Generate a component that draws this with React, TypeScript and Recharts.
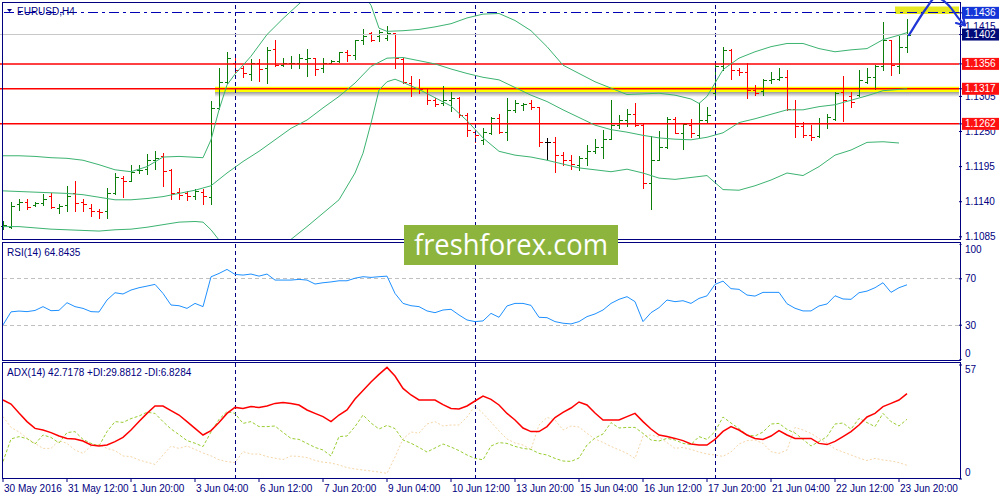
import React from 'react';
import {
  ComposedChart,
  Bar,
  Line,
  XAxis,
  YAxis,
  ReferenceLine,
  ReferenceArea,
} from 'recharts';

// EURUSD H4 bars, 30 May 2016 04:00 .. 24 Jun 2016 00:00
const open = [
  1.1102, 1.1101, 1.1136, 1.114, 1.1135, 1.1138, 1.1149, 1.113, 1.1135, 1.1153,
  1.114, 1.113, 1.1126, 1.1126, 1.1153, 1.1177, 1.1173, 1.1189, 1.1192, 1.1205,
  1.1211, 1.119, 1.1156, 1.1154, 1.1149, 1.1156, 1.1148, 1.1287, 1.1327, 1.1357,
  1.1349, 1.134, 1.1357, 1.1349, 1.1379, 1.1354, 1.1357, 1.1357, 1.1363, 1.1365,
  1.1349, 1.1358, 1.1361, 1.1374, 1.137, 1.1393, 1.1404, 1.1399, 1.1396, 1.1404,
  1.1363, 1.1326, 1.1319, 1.1318, 1.1299, 1.1294, 1.1299, 1.1302, 1.1276, 1.125,
  1.1237, 1.1248, 1.1271, 1.125, 1.1284, 1.1292, 1.1295, 1.1288, 1.1234, 1.1234,
  1.1213, 1.1206, 1.1198, 1.1208, 1.122, 1.1226, 1.1239, 1.126, 1.1268, 1.1277,
  1.126, 1.117, 1.1205, 1.1226, 1.1269, 1.1247, 1.126, 1.1245, 1.1268, 1.131,
  1.1352, 1.1378, 1.1346, 1.1344, 1.1315, 1.1314, 1.133, 1.1333, 1.1335, 1.1285,
  1.1259, 1.1245, 1.1243, 1.1264, 1.1269, 1.1312, 1.1305, 1.1307, 1.1328, 1.1336,
  1.1352, 1.1393, 1.1353, 1.1383,
];
const high = [
  1.1109, 1.1139, 1.1144, 1.1144, 1.114, 1.1152, 1.1154, 1.1137, 1.1165, 1.1173,
  1.1144, 1.1137, 1.1128, 1.1161, 1.1185, 1.118, 1.1197, 1.1197, 1.1214, 1.122,
  1.1216, 1.1192, 1.1161, 1.1157, 1.116, 1.116, 1.1298, 1.1349, 1.1374, 1.1371,
  1.1352, 1.1363, 1.1363, 1.1383, 1.1393, 1.1365, 1.1368, 1.1372, 1.138, 1.1366,
  1.1366, 1.1362, 1.1375, 1.1378, 1.1394, 1.141, 1.1406, 1.1409, 1.1415, 1.1405,
  1.1365, 1.1337, 1.1332, 1.1319, 1.1302, 1.1321, 1.1312, 1.1304, 1.1279, 1.1252,
  1.1255, 1.1273, 1.1277, 1.1302, 1.1299, 1.1295, 1.1299, 1.1289, 1.124, 1.1242,
  1.1218, 1.1213, 1.1211, 1.1229, 1.1238, 1.1253, 1.1299, 1.1276, 1.1286, 1.1294,
  1.1264, 1.1243, 1.1251, 1.1272, 1.1272, 1.1264, 1.127, 1.1295, 1.1289, 1.1357,
  1.1382, 1.1379, 1.1349, 1.1357, 1.1323, 1.1332, 1.1344, 1.1349, 1.1346, 1.13,
  1.1265, 1.126, 1.1271, 1.1277, 1.1312, 1.1337, 1.1312, 1.1346, 1.1349, 1.1354,
  1.1422, 1.1394, 1.1399, 1.1426,
];
const low = [
  1.1098, 1.1099, 1.1127, 1.1128, 1.1133, 1.1135, 1.113, 1.1122, 1.1126, 1.1125,
  1.1126, 1.1117, 1.1114, 1.1115, 1.1152, 1.1148, 1.1172, 1.1185, 1.1183, 1.1191,
  1.1165, 1.1144, 1.1144, 1.1143, 1.1144, 1.1137, 1.1136, 1.1286, 1.1326, 1.1344,
  1.1335, 1.1331, 1.1329, 1.1326, 1.1353, 1.1353, 1.1349, 1.135, 1.1337, 1.1339,
  1.1344, 1.1357, 1.1359, 1.1361, 1.1363, 1.1387, 1.1392, 1.1392, 1.1394, 1.135,
  1.1326, 1.1305, 1.1311, 1.1293, 1.129, 1.1292, 1.1282, 1.1273, 1.1243, 1.1233,
  1.123, 1.1246, 1.1248, 1.1237, 1.1281, 1.1284, 1.1285, 1.1228, 1.1207, 1.1187,
  1.1197, 1.1192, 1.1189, 1.1197, 1.1217, 1.1209, 1.1238, 1.1255, 1.1258, 1.1258,
  1.1162, 1.1129, 1.1205, 1.1224, 1.1247, 1.1222, 1.1241, 1.1241, 1.1265, 1.1308,
  1.1347, 1.1332, 1.1339, 1.1303, 1.1307, 1.1307, 1.1326, 1.133, 1.1283, 1.1242,
  1.1241, 1.1237, 1.1242, 1.1255, 1.1268, 1.1267, 1.1288, 1.1305, 1.1326, 1.1316,
  1.1346, 1.1339, 1.1341, 1.1375,
];
const close = [
  1.1104, 1.1133, 1.114, 1.1132, 1.1138, 1.1144, 1.1132, 1.1134, 1.1149, 1.1138,
  1.1137, 1.1125, 1.1124, 1.1154, 1.1178, 1.1173, 1.1187, 1.119, 1.1206, 1.1209,
  1.1188, 1.1154, 1.1151, 1.1149, 1.1157, 1.1149, 1.1287, 1.1327, 1.1366, 1.1346,
  1.1342, 1.1357, 1.1348, 1.1378, 1.1354, 1.1358, 1.1358, 1.1365, 1.1365, 1.1348,
  1.1358, 1.1361, 1.1374, 1.137, 1.1393, 1.1399, 1.1394, 1.1406, 1.1405, 1.1365,
  1.1327, 1.1319, 1.1316, 1.1299, 1.1293, 1.13, 1.1302, 1.1276, 1.1252, 1.1245,
  1.125, 1.1271, 1.125, 1.1284, 1.1294, 1.1293, 1.1288, 1.1234, 1.1234, 1.1213,
  1.1206, 1.1199, 1.1208, 1.122, 1.1226, 1.1239, 1.126, 1.1268, 1.1277, 1.126,
  1.117, 1.1205, 1.1226, 1.1269, 1.1248, 1.1262, 1.1248, 1.1268, 1.1276, 1.1352,
  1.1378, 1.1346, 1.1344, 1.1315, 1.1311, 1.1331, 1.1333, 1.1335, 1.1285, 1.1259,
  1.1245, 1.1241, 1.1264, 1.1273, 1.1311, 1.13, 1.1296, 1.1331, 1.1336, 1.1352,
  1.1394, 1.1354, 1.1383, 1.1402,
];

// Bollinger bands, read as [bar, price]
const bbUpper = [
  [0, 1.1212], [2, 1.1212], [4, 1.1211], [6, 1.1209], [8, 1.1208], [10, 1.1205],
  [12, 1.1198], [14, 1.119], [16, 1.1187], [18, 1.1195], [20, 1.121], [22, 1.1211],
  [25, 1.1209], [26, 1.1237], [27, 1.1284], [28, 1.1323], [29, 1.134], [31, 1.1368],
  [33, 1.1402], [35, 1.1427], [37, 1.145], [39, 1.1472], [41, 1.1485], [43, 1.1482],
  [45, 1.1465], [46, 1.1448], [47, 1.1412], [48, 1.1407], [50, 1.1408], [52, 1.141],
  [54, 1.1414], [56, 1.1419], [58, 1.1428], [60, 1.1434], [62, 1.1435], [64, 1.1424],
  [66, 1.1408], [68, 1.1383], [70, 1.1354], [72, 1.1341], [74, 1.1328], [76, 1.1318],
  [78, 1.1308], [80, 1.1309], [82, 1.131], [84, 1.1307], [86, 1.1301], [87, 1.1294],
  [88, 1.1305], [90, 1.1347], [92, 1.1365], [94, 1.1375], [96, 1.1383], [98, 1.1388],
  [100, 1.1388], [102, 1.138], [104, 1.1375], [106, 1.1378], [108, 1.138], [110, 1.1394],
  [112, 1.1401], [113, 1.1405],
];
const bbMiddle = [
  [0, 1.1157], [2, 1.1156], [4, 1.1155], [6, 1.1154], [8, 1.1153], [10, 1.1151],
  [12, 1.1147], [14, 1.1143], [16, 1.1143], [18, 1.1145], [20, 1.1148], [22, 1.1153],
  [24, 1.1158], [26, 1.1165], [28, 1.1185], [30, 1.1203], [32, 1.1219], [34, 1.1237],
  [36, 1.1255], [38, 1.1268], [40, 1.1287], [42, 1.1305], [44, 1.1326], [46, 1.1352],
  [48, 1.1365], [50, 1.1366], [52, 1.1361], [54, 1.1356], [56, 1.1348], [58, 1.1341],
  [60, 1.1335], [62, 1.1331], [64, 1.1319], [66, 1.1307], [68, 1.1297], [70, 1.1284],
  [72, 1.1272], [74, 1.126], [76, 1.1253], [78, 1.1249], [80, 1.1244], [82, 1.124],
  [84, 1.1238], [86, 1.1237], [88, 1.1241], [90, 1.1248], [92, 1.1264], [94, 1.127],
  [96, 1.1277], [98, 1.1284], [100, 1.1284], [102, 1.1289], [104, 1.1292], [106, 1.1299],
  [108, 1.1306], [110, 1.1314], [112, 1.1316], [113, 1.1317],
];
const bbLower = [
  [0, 1.1101], [2, 1.1101], [4, 1.1099], [6, 1.1097], [8, 1.1096], [10, 1.1095],
  [12, 1.1094], [14, 1.1096], [16, 1.1097], [18, 1.11], [20, 1.1104], [22, 1.1108],
  [24, 1.1109], [25, 1.1108], [26, 1.1096], [27, 1.108], [28, 1.1059], [30, 1.1028],
  [32, 1.1018], [34, 1.1049], [36, 1.1081], [38, 1.1101], [40, 1.1122], [42, 1.1143],
  [44, 1.1185], [45, 1.1216], [46, 1.1263], [47, 1.1315], [48, 1.1328], [49, 1.1332],
  [50, 1.1327], [52, 1.1316], [54, 1.1303], [56, 1.129], [58, 1.1267], [60, 1.124],
  [62, 1.1219], [64, 1.1213], [66, 1.121], [68, 1.1205], [70, 1.1199], [72, 1.1193],
  [74, 1.119], [76, 1.1187], [78, 1.1191], [80, 1.1185], [82, 1.1177], [84, 1.1175],
  [86, 1.1178], [88, 1.1181], [90, 1.1159], [92, 1.1158], [94, 1.1165], [96, 1.1174],
  [98, 1.1185], [100, 1.1181], [102, 1.1195], [104, 1.1213], [106, 1.1221], [108, 1.1233],
  [110, 1.1234], [112, 1.1232],
];

const rsi = [
  30.2, 41.5, 42.2, 41.7, 42.7, 46, 42.5, 42.8, 49.4, 46,
  44.5, 41.7, 41.4, 51.7, 58, 56.9, 60.3, 62.3, 63.7, 65.2,
  57.4, 47.4, 46.8, 44.5, 48.8, 46, 71.7, 74.6, 78.1, 73.8,
  73.2, 74.1, 72.3, 74.1, 68.9, 68.9, 68.9, 69.5, 68.9, 65.5,
  66.6, 67.3, 68.3, 68.3, 70.5, 71.8, 71.2, 71.8, 72.3, 57.4,
  48.8, 46.8, 46, 42.3, 40.8, 43.1, 43.7, 38.8, 34.5, 33.1,
  33.7, 40.2, 36.8, 46.6, 48.8, 48.8, 47.1, 36.8, 36.5, 33.1,
  31.7, 31.1, 33.1, 37.4, 39.7, 43.1, 48.8, 52.3, 54.6, 50.3,
  33.1, 40.8, 45.1, 51.7, 50.3, 51.1, 48.8, 53.1, 55.3, 65.2,
  68, 61.5, 60.9, 56, 55.1, 58.3, 58.3, 58.3, 48.5, 44.6,
  42.3, 42.3, 46.6, 48.3, 55.4, 52.6, 52.3, 58, 59.4, 62.3,
  66.6, 58.3, 62.3, 64.84,
];

const adx = [
  39.5, 37.5, 33, 28.7, 25.3, 24.5, 23.2, 21.5, 20.3, 20,
  19, 17, 16.5, 17, 18.7, 20.8, 24.5, 28.7, 32.8, 36.5,
  36.5, 34.2, 32, 28.7, 25.3, 22, 24.2, 28.2, 32.8, 35.8,
  35.3, 36.2, 35.8, 36.5, 37.8, 38.3, 37.8, 37, 34.5, 32.8,
  31.2, 28.7, 32, 34.5, 40, 44.2, 48.5, 52.3, 55.8, 51.5,
  45.3, 42, 39.5, 39.5, 39.5, 37.2, 35.3, 35, 36.5, 39,
  41.5, 39.8, 37, 32.8, 29.5, 25.5, 23.7, 23.7, 26.2, 30.7,
  33.3, 35.5, 38.5, 37, 33, 29.5, 29.5, 29.5, 31.2, 32.8,
  28.7, 25, 22, 21.2, 20.3, 19.2, 17.5, 17, 17, 19.8,
  23.8, 26.2, 24.5, 22, 20.3, 19.8, 21.5, 24.2, 22, 20.3,
  20.3, 20.3, 17.8, 17.2, 18.8, 21.2, 23.7, 27, 31, 32.8,
  36.2, 37.8, 39.5, 42.72,
];
const plusDi = [
  8.7, 20, 21.2, 20.2, 17.5, 22, 20.8, 18, 23.2, 23.7,
  19.8, 17.8, 16.5, 23.7, 28.7, 28.3, 30.2, 31.5, 33.4, 32.8,
  28.7, 25, 22.2, 19.2, 17.9, 16.2, 23.5, 29.8, 33.7, 32.8,
  27.8, 28.7, 26.2, 26.2, 26.5, 23.3, 20.3, 19.8, 17.8, 15.8,
  14.5, 11.5, 21.2, 21.5, 26.2, 32, 28, 25, 26.8, 25.2,
  19.5, 17.9, 15.8, 13.5, 15.5, 17.5, 16, 14.2, 12, 10.3,
  9.6, 16.5, 18.2, 17.8, 16.3, 15.3, 14.8, 12.8, 12, 10.3,
  9, 8.8, 10.5, 17, 20.5, 22.5, 28.2, 25.5, 25.8, 25.8,
  22.8, 19.5, 19, 20.3, 19.5, 17.8, 17.2, 21.2, 19.8, 23.7,
  31, 28, 25.2, 22, 21.5, 23.5, 27.5, 27.8, 24.8, 23,
  19.8, 16.5, 18.7, 21.2, 27.5, 28, 24.9, 30.3, 28.2, 26.2,
  32.8, 28.7, 26.5, 29.88,
];
const minusDi = [
  31.2, 25.8, 23.5, 20.5, 17.8, 15.3, 15.3, 19.2, 17.8, 14.5,
  12.8, 16.5, 17.3, 15.3, 14.2, 11.5, 11.2, 9.5, 8.4, 7.3,
  12, 16.4, 15.3, 16.5, 14.8, 13, 11.6, 9.6, 8.7, 8.2,
  13.7, 12.5, 12.5, 11.2, 10.4, 9.7, 11.5, 11.3, 10.7, 9.3,
  8.4, 8, 7, 5.7, 5, 4.5, 4, 3.5, 2.8, 11,
  20, 23.5, 22.9, 27.5, 28.7, 26.5, 27, 27, 31, 36.5,
  32.8, 28.5, 24, 20, 18, 17, 14.8, 27, 30.8, 29.5,
  24.5, 26.5, 26, 22.8, 20, 18.3, 16.3, 14.6, 12.8, 10.3,
  21.5, 22, 21, 18.2, 15.3, 15.8, 14.8, 13.5, 12.5, 12,
  11.3, 13.5, 17.5, 19.2, 19.5, 17.8, 13.7, 12.8, 14.5, 25.8,
  24.5, 22.8, 20.3, 18, 15, 13.5, 12, 10.5, 9.2, 10.3,
  9.5, 9, 8.2, 6.83,
];

const dateLabels = [
  '30 May 2016', '31 May 12:00', '1 Jun 20:00', '3 Jun 04:00', '6 Jun 12:00',
  '7 Jun 20:00', '9 Jun 04:00', '10 Jun 12:00', '13 Jun 20:00', '15 Jun 04:00',
  '16 Jun 12:00', '17 Jun 20:00', '21 Jun 04:00', '22 Jun 12:00', '23 Jun 20:00',
];
const weekStarts = [29, 59, 89];
// 1.1360 sits fully under the 1.1356 box in the reference, so it is left out
const priceTicks = [1.1085, 1.114, 1.1195, 1.125, 1.1305, 1.1415];
const levels = [1.1356, 1.1317, 1.1262];
const bidPrice = 1.1402;
const targetPrice = 1.1436;
const rsiTicks = [100, 70, 30, 0];
const rsiLevels = [70, 30];
const adxTicks = [57, 0];

const SLOTS = 120;
const NAVY = '#000080';
const UP = '#0b7d0b';
const DOWN = '#ff0000';
const FONT = '"Liberation Sans", Arial, sans-serif';
const margin = { top: 0, right: 0, bottom: 0, left: 0 };

const rows: any[] = Array.from({ length: SLOTS }, (_, k) => ({
  k,
  o: open[k] ?? null,
  h: high[k] ?? null,
  l: low[k] ?? null,
  c: close[k] ?? null,
  rsi: rsi[k] ?? null,
  adx: adx[k] ?? null,
  pdi: plusDi[k] ?? null,
  mdi: minusDi[k] ?? null,
  bu: null,
  bm: null,
  bl: null,
  none: null,
}));
const put = (key: string, pairs: number[][]) =>
  pairs.forEach(([k, v]) => {
    rows[k][key] = v;
  });
put('bu', bbUpper);
put('bm', bbMiddle);
put('bl', bbLower);

const labelSlots = dateLabels.map((_, i) => i * 8);
const priceAxisTicks = [...priceTicks, ...levels, bidPrice, targetPrice];

const boxFill = (v: number) => {
  if (levels.includes(v)) return '#ff1010';
  if (v === bidPrice) return '#000a78';
  if (v === targetPrice) return '#1436d8';
  return null;
};

const ohlcRange = (d: any) => (d.h == null ? null : [d.l, d.h]);

function OhlcBar(props: any) {
  const { x, y, width, height, payload } = props;
  if (!payload || payload.h == null || x == null) return null;
  const top = Math.min(y, y + height);
  const bottom = Math.max(y, y + height);
  const span = payload.h - payload.l;
  const at = (v: number) => (span > 0 ? top + ((payload.h - v) / span) * (bottom - top) : top);
  const cx = Math.round(x + width / 2) + 0.5;
  const color = payload.c > payload.o ? UP : payload.c < payload.o ? DOWN : '#000000';
  const yo = Math.round(at(payload.o)) + 0.5;
  const yc = Math.round(at(payload.c)) + 0.5;
  return (
    <g stroke={color} strokeWidth={1} shapeRendering="crispEdges">
      <line x1={cx} x2={cx} y1={Math.round(top)} y2={Math.round(bottom) + 1} />
      <line x1={cx - 3} x2={cx} y1={yo} y2={yo} />
      <line x1={cx} x2={cx + 3} y1={yc} y2={yc} />
    </g>
  );
}

function PriceTick(props: any) {
  const { x, y, payload } = props;
  const v = payload.value as number;
  const fill = boxFill(v);
  const label = v.toFixed(4);
  if (fill) {
    return (
      <g>
        <rect x={x - 2} y={y - 6} width={37} height={12} fill={fill} />
        <text x={x + 1} y={y} dy="0.35em" fill="#ffffff" fontSize={10} fontFamily={FONT}>
          {label}
        </text>
      </g>
    );
  }
  return (
    <text x={x + 1} y={y} dy="0.35em" fill={NAVY} fontSize={10} fontFamily={FONT}>
      {label}
    </text>
  );
}

function RsiTick(props: any) {
  const { x, y, payload } = props;
  const v = payload.value as number;
  const shift = v === 100 ? 5 : v === 0 ? -7 : 0;
  return (
    <text x={x + 1} y={y + shift} dy="0.35em" fill={NAVY} fontSize={10} fontFamily={FONT}>
      {v}
    </text>
  );
}

function AdxTick(props: any) {
  const { x, y, payload } = props;
  const v = payload.value as number;
  const shift = v === 0 ? -7 : 4;
  return (
    <text x={x + 1} y={y + shift} dy="0.35em" fill={NAVY} fontSize={10} fontFamily={FONT}>
      {v}
    </text>
  );
}

function DateTick(props: any) {
  const { x, y, payload } = props;
  const label = dateLabels[payload.value / 8];
  if (!label) return null;
  return (
    <text x={x + 1} y={y + 8} fill={NAVY} fontSize={10} fontFamily={FONT}>
      {label}
    </text>
  );
}

const separators = weekStarts.map((k) => (
  <ReferenceLine
    key={`w${k}`}
    x={k}
    stroke={NAVY}
    strokeDasharray="4 3"
    shapeRendering="crispEdges"
    ifOverflow="visible"
  />
));

export default function App() {
  return (
    <div
      style={{
        position: 'absolute',
        left: 0,
        top: 0,
        width: 1000,
        height: 500,
        background: '#ffffff',
        overflow: 'hidden',
        fontFamily: FONT,
      }}
    >
      <div style={{ position: 'absolute', left: -1, top: 2 }}>
        <ComposedChart width={1001} height={238} data={rows} margin={margin}>
          <defs>
            <linearGradient id="bandShadow" x1="0" y1="0" x2="0" y2="1">
              <stop offset="0%" stopColor="#7a7a7a" stopOpacity={0.75} />
              <stop offset="100%" stopColor="#7a7a7a" stopOpacity={0} />
            </linearGradient>
          </defs>
          <XAxis dataKey="k" hide />
          <YAxis
            orientation="right"
            width={41}
            domain={[1.108, 1.1453]}
            allowDataOverflow
            ticks={priceAxisTicks}
            interval={0}
            tick={(p: any) => <PriceTick {...p} />}
            tickLine={{ stroke: NAVY }}
            tickSize={3}
            tickMargin={2}
            axisLine={false}
          />
          <ReferenceArea x1={27} y1={1.1304} y2={1.1312} fill="url(#bandShadow)" fillOpacity={1} />
          <ReferenceArea x1={27} y1={1.1312} y2={1.132} fill="#ffff00" fillOpacity={1} />
          <ReferenceArea x1={112} x2={119} y1={1.1434} y2={1.1446} fill="#e8e820" fillOpacity={1} />
          {separators}
          <ReferenceLine y={bidPrice} stroke="#c8c8c8" shapeRendering="crispEdges" />
          <ReferenceLine y={targetPrice} stroke="#0000b4" strokeDasharray="10 4 3 4" shapeRendering="crispEdges" />
          {levels.map((v) => (
            <ReferenceLine key={v} y={v} stroke="#ff0000" strokeWidth={1.5} />
          ))}
          <Line dataKey="bu" stroke="#3cb371" strokeWidth={1} dot={false} activeDot={false} connectNulls isAnimationActive={false} />
          <Line dataKey="bm" stroke="#3cb371" strokeWidth={1} dot={false} activeDot={false} connectNulls isAnimationActive={false} />
          <Line dataKey="bl" stroke="#3cb371" strokeWidth={1} dot={false} activeDot={false} connectNulls isAnimationActive={false} />
          <Bar dataKey={ohlcRange} shape={(p: any) => <OhlcBar {...p} />} isAnimationActive={false} />
        </ComposedChart>
      </div>

      <div style={{ position: 'absolute', left: -1, top: 244 }}>
        <ComposedChart width={1001} height={116} data={rows} margin={margin}>
          <XAxis dataKey="k" hide />
          <YAxis
            orientation="right"
            width={41}
            domain={[0, 100]}
            ticks={rsiTicks}
            interval={0}
            tick={(p: any) => <RsiTick {...p} />}
            tickLine={{ stroke: NAVY }}
            tickSize={3}
            tickMargin={2}
            axisLine={false}
          />
          {rsiLevels.map((v) => (
            <ReferenceLine key={v} y={v} stroke="#c0c0c0" strokeDasharray="4 3" shapeRendering="crispEdges" />
          ))}
          {separators}
          <Bar dataKey="none" isAnimationActive={false} />
          <Line dataKey="rsi" stroke="#1e90ff" strokeWidth={1} dot={false} activeDot={false} isAnimationActive={false} />
        </ComposedChart>
      </div>

      <div style={{ position: 'absolute', left: -1, top: 363 }}>
        <ComposedChart width={1001} height={137} data={rows} margin={margin}>
          <XAxis
            dataKey="k"
            ticks={labelSlots}
            interval={0}
            tick={(p: any) => <DateTick {...p} />}
            tickLine={{ stroke: NAVY }}
            tickSize={3}
            tickMargin={2}
            axisLine={false}
            height={21}
          />
          <YAxis
            orientation="right"
            width={41}
            domain={[0, 58]}
            ticks={adxTicks}
            interval={0}
            tick={(p: any) => <AdxTick {...p} />}
            tickLine={{ stroke: NAVY }}
            tickSize={3}
            tickMargin={2}
            axisLine={false}
          />
          {separators}
          <Bar dataKey="none" isAnimationActive={false} />
          <Line dataKey="mdi" stroke="#f5d6a8" strokeWidth={1} strokeDasharray="2 2" dot={false} activeDot={false} isAnimationActive={false} />
          <Line dataKey="pdi" stroke="#9acd32" strokeWidth={1} strokeDasharray="3 2" dot={false} activeDot={false} isAnimationActive={false} />
          <Line dataKey="adx" stroke="#ff0000" strokeWidth={1.5} dot={false} activeDot={false} isAnimationActive={false} />
        </ComposedChart>
      </div>

      <svg
        width={1000}
        height={500}
        style={{ position: 'absolute', left: 0, top: 0, pointerEvents: 'none' }}
      >
        <g fill="none" stroke={NAVY} strokeWidth={1}>
          <rect x={2.5} y={2.5} width={958} height={237} />
          <rect x={2.5} y={242.5} width={958} height={118} />
          <rect x={2.5} y={362.5} width={958} height={116} />
        </g>
        <path d="M7 9 L12 9 L9.5 12 Z" fill={NAVY} />
        <text x={17} y={11} dy="0.35em" fill={NAVY} fontSize={10} fontFamily={FONT}>
          EURUSD,H4
        </text>
        <text x={7} y={252} dy="0.35em" fill={NAVY} fontSize={10} fontFamily={FONT}>
          RSI(14) 64.8435
        </text>
        <text x={7} y={372} dy="0.35em" fill={NAVY} fontSize={10} fontFamily={FONT}>
          ADX(14) 42.7178 +DI:29.8812 -DI:6.8284
        </text>
        <rect x={404} y={225} width={214} height={40} fill="#8db53e" />
        <text
          x={414}
          y={255}
          fill="#ffffff"
          fontSize={30}
          fontFamily='"Open Sans", sans-serif'
          textLength={194}
          lengthAdjust="spacingAndGlyphs"
        >
          freshforex.com
        </text>
        <g fill="none" stroke="#1f35d6" strokeWidth={2.2} strokeLinecap="round" strokeLinejoin="round">
          <path d="M909 35 C914 27 920 17 925 10 S931 1 933 -1" />
          <path d="M941 -1 C946 2 950 6 954 12 S960 21 965 25" />
          <path d="M956 23 L965 25.5 L963 16" />
        </g>
      </svg>
    </div>
  );
}
